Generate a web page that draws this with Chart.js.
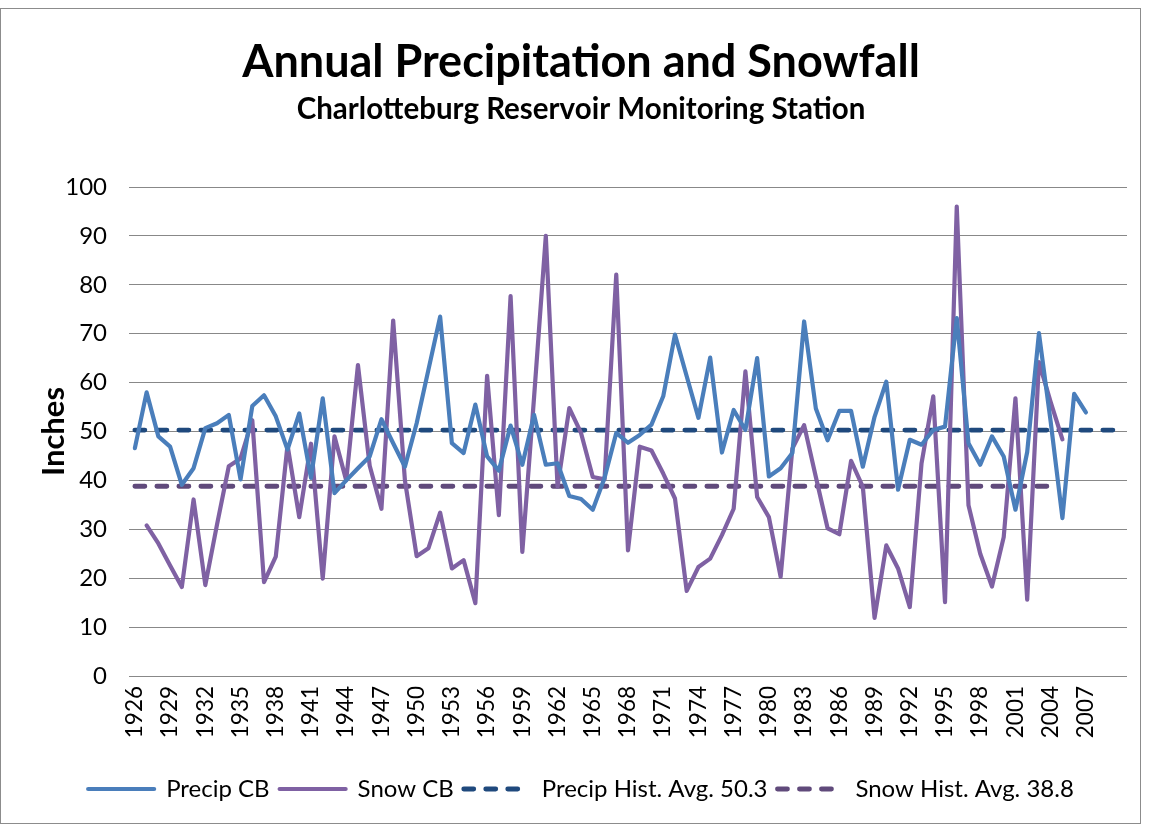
<!DOCTYPE html>
<html>
<head>
<meta charset="utf-8">
<script src="https://cdn.jsdelivr.net/npm/chart.js@4.4.1/dist/chart.umd.min.js"></script>
<style>
  html, body { margin: 0; padding: 0; background: #fff; }
  #wrap { width: 1149px; height: 825px; }
</style>
</head>
<body>
<div id="wrap"><canvas id="precipChart" width="1149" height="825"></canvas></div>
<script>
// years 1926..2007, plus three empty slots the avg line runs through
var years = [1926,1927,1928,1929,1930,1931,1932,1933,1934,1935,
             1936,1937,1938,1939,1940,1941,1942,1943,1944,1945,
             1946,1947,1948,1949,1950,1951,1952,1953,1954,1955,
             1956,1957,1958,1959,1960,1961,1962,1963,1964,1965,
             1966,1967,1968,1969,1970,1971,1972,1973,1974,1975,
             1976,1977,1978,1979,1980,1981,1982,1983,1984,1985,
             1986,1987,1988,1989,1990,1991,1992,1993,1994,1995,
             1996,1997,1998,1999,2000,2001,2002,2003,2004,2005,
             2006,2007,'','',''];

var precipCB = [46.6,58.0,49.0,46.9,39.1,42.5,50.7,51.7,53.4,40.2,
                55.2,57.4,53.1,46.3,53.7,40.5,56.8,37.4,40.0,42.5,
                44.9,52.5,47.6,42.8,51.7,62.6,73.5,47.6,45.6,55.5,
                44.9,42.0,51.2,43.2,53.4,43.2,43.5,36.8,36.2,34.0,
                40.5,49.7,47.7,49.3,51.4,57.2,69.8,61.3,52.8,65.1,
                45.7,54.4,50.3,65.0,40.8,42.5,45.6,72.5,54.7,48.2,
                54.2,54.2,42.8,53.0,60.2,38.1,48.3,47.3,50.3,51.0,
                73.2,47.6,43.2,49.0,44.9,34.0,45.8,70.1,52.0,32.3,
                57.7,53.9];

var snowCB = [null,30.8,27.1,22.6,18.2,36.1,18.6,31.0,42.9,44.5,
              52.3,19.2,24.4,47.2,32.5,47.5,19.9,49.0,40.0,63.6,
              43.0,34.2,72.7,40.0,24.5,26.1,33.4,22.0,23.7,14.9,
              61.4,32.9,77.7,25.4,57.0,90.0,38.7,54.8,49.7,40.7,
              40.2,82.1,25.7,46.9,46.1,41.4,36.3,17.4,22.3,24.0,
              28.8,34.2,62.3,36.6,32.5,20.3,46.5,51.3,40.7,30.2,
              29.0,44.0,38.7,11.9,26.7,22.0,14.1,43.5,57.2,15.1,
              96.0,34.9,25.0,18.3,28.4,56.8,15.6,64.2,56.0,48.4];

var precipAvg = 50.3;
var snowAvg = 38.8;
var snowAvgLastYear = 2004;

var yTicks = [0,10,20,30,40,50,60,70,80,90,100];

var font = "Lato, 'Open Sans', 'DejaVu Sans', sans-serif";

var precipAvgLine = years.map(function () { return precipAvg; });
var snowAvgLine = years.map(function (y) {
  return (y !== '' && y <= snowAvgLastYear) ? snowAvg : null;
});

// grey frame round the whole chart
var frame = {
  id: 'frame',
  afterDraw: function (chart) {
    var c = chart.ctx;
    c.save();
    c.strokeStyle = '#8c8c8c';
    c.lineWidth = 1;
    c.strokeRect(0.5, 8.5, 1140, 815);
    c.restore();
  }
};

var chart = new Chart(document.getElementById('precipChart').getContext('2d'), {
  type: 'line',
  data: {
    labels: years,
    datasets: [
      { label: 'Precip CB', data: precipCB, borderColor: '#4a7ebb', borderWidth: 4.2,
        pointRadius: 0, tension: 0, borderJoinStyle: 'round', borderCapStyle: 'round' },
      { label: 'Snow CB', data: snowCB, borderColor: '#7f61a3', borderWidth: 4.2,
        pointRadius: 0, tension: 0, borderJoinStyle: 'round', borderCapStyle: 'round' },
      { label: 'Precip Hist. Avg. 50.3', data: precipAvgLine, borderColor: '#1f497d', borderWidth: 4.8,
        borderDash: [10, 12], borderCapStyle: 'round', pointRadius: 0 },
      { label: 'Snow Hist. Avg. 38.8', data: snowAvgLine, borderColor: '#604a7b', borderWidth: 4.8,
        borderDash: [10, 12], borderCapStyle: 'round', pointRadius: 0 }
    ]
  },
  options: {
    responsive: false,
    animation: false,
    layout: { padding: { left: 35, right: 22, top: 0, bottom: 14 } },
    plugins: {
      title: {
        display: true,
        text: 'Annual Precipitation and Snowfall',
        color: '#000',
        font: { family: font, size: 45, weight: 'bold' },
        padding: { top: 35, bottom: 3 }
      },
      subtitle: {
        display: true,
        text: 'Charlotteburg Reservoir Monitoring Station',
        color: '#000',
        font: { family: font, size: 29.5, weight: 'bold' },
        padding: { top: 0, bottom: 59.6 }
      },
      legend: {
        position: 'bottom',
        labels: {
          color: '#000',
          font: { family: font, size: 24 },
          usePointStyle: true,
          pointStyle: 'line',
          pointStyleWidth: 66,
          boxWidth: 66,
          boxHeight: 24,
          padding: 10,
          generateLabels: function (chart) {
            var items = Chart.defaults.plugins.legend.labels.generateLabels(chart);
            items.forEach(function (it) {
              var ds = chart.data.datasets[it.datasetIndex];
              it.lineDash = ds.borderDash || [];
              it.lineWidth = ds.borderWidth;
              it.lineCap = 'round';
              it.strokeStyle = ds.borderColor;
            });
            return items;
          }
        }
      },
      tooltip: { enabled: false }
    },
    scales: {
      x: {
        type: 'category',
        offset: true,
        grid: { display: false, drawTicks: false },
        border: { display: false },
        ticks: {
          autoSkip: false,
          minRotation: 90,
          maxRotation: 90,
          padding: 10,
          color: '#000',
          font: { family: font, size: 22.5 },
          callback: function (v, i) { return i % 3 === 0 ? years[i] : ''; }
        },
        afterFit: function (s) {
          s.height = 91;
          s.paddingLeft = 0;
          s.paddingRight = 0;
        }
      },
      y: {
        min: 0,
        max: 100,
        afterBuildTicks: function (s) { s.ticks = yTicks.map(function (v) { return { value: v }; }); },
        grid: { color: '#888', lineWidth: 1, drawTicks: false },
        border: { display: false },
        ticks: { padding: 22, color: '#000', font: { family: font, size: 24 } },
        title: {
          display: true,
          text: 'Inches',
          color: '#000',
          font: { family: font, size: 31, weight: 'bold' },
          padding: { top: 0, bottom: 0 }
        },
        afterFit: function (s) { s.width = 94; }
      }
    }
  },
  plugins: [frame]
});
</script>
</body>
</html>
